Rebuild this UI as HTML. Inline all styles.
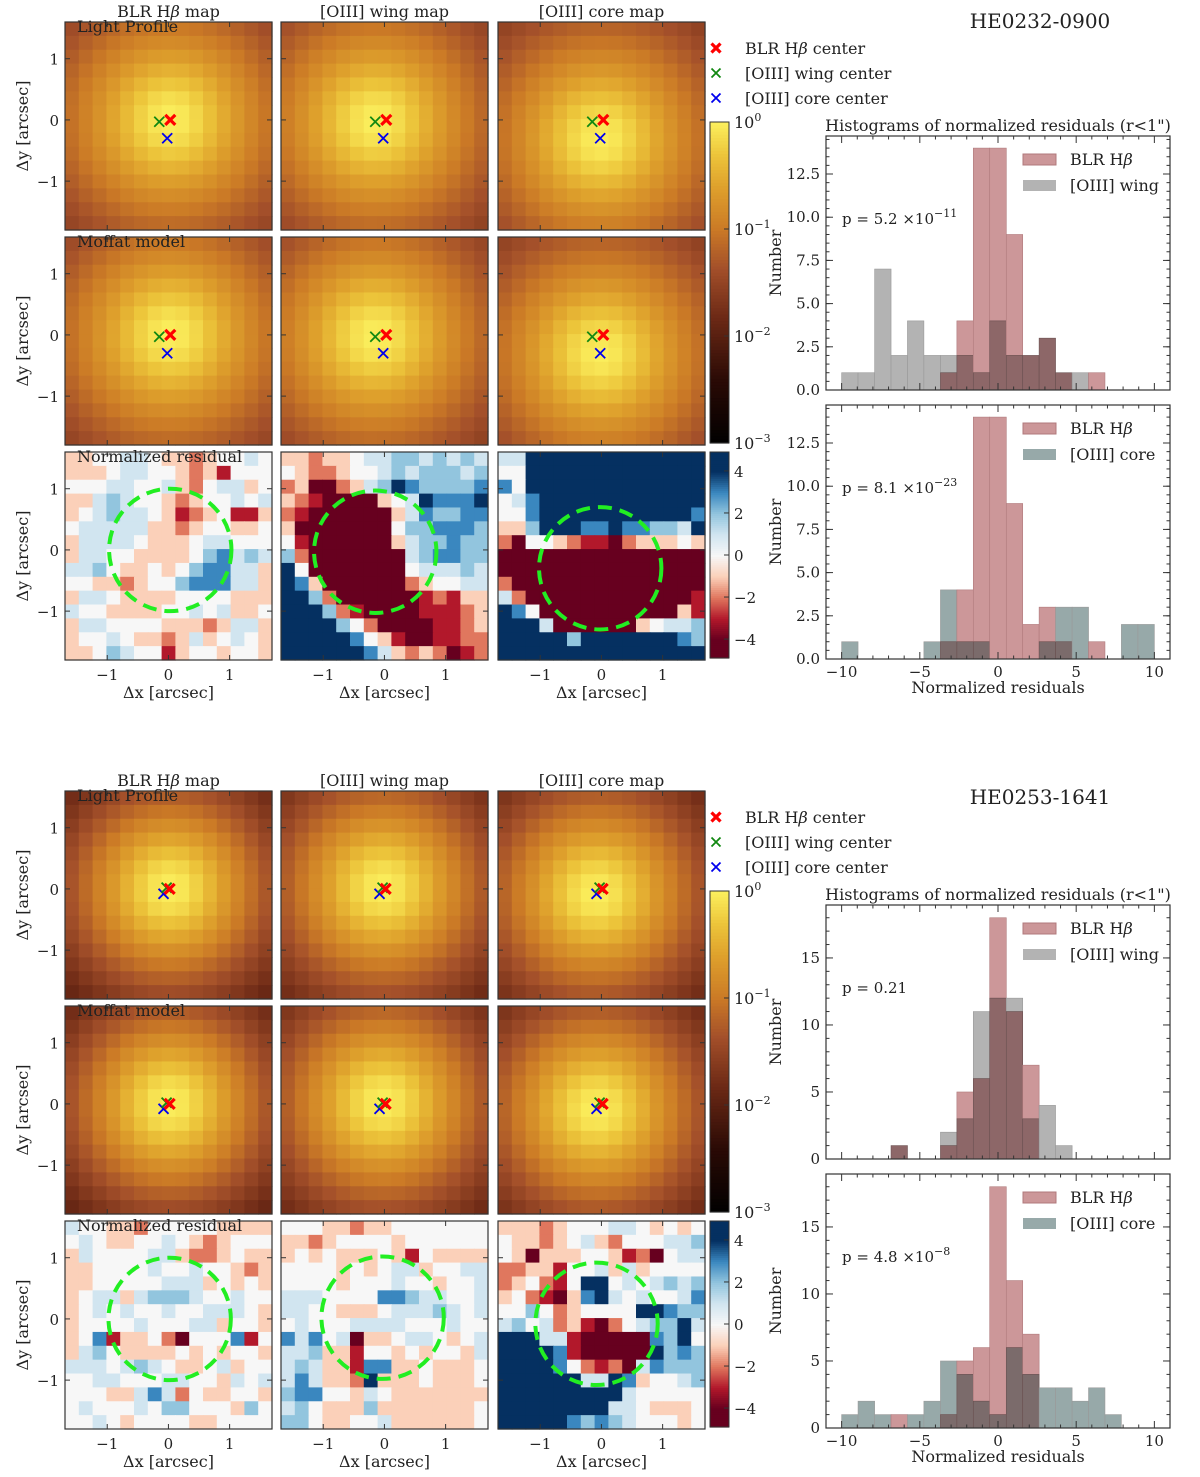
<!DOCTYPE html>
<html><head><meta charset="utf-8"><style>
html,body{margin:0;padding:0;background:#fff}
svg text{font-family:"DejaVu Serif","Liberation Serif",serif;fill:#222}
</style></head><body>
<svg id="fig" xmlns="http://www.w3.org/2000/svg" width="1200" height="1472" viewBox="0 0 1200 1472"></svg>
<script>
// ---------------- data ----------------
const binEdges=[-10,-8.95,-7.89,-6.84,-5.79,-4.74,-3.68,-2.63,-1.58,-0.53,0.53,1.58,2.63,3.68,4.74,5.79,6.84,7.89,8.95,10];
const topBLR =[0,0,0,0,0,0,1,4,14,14,9,2,3,1,0,1,0,0,0];
const topWing=[1,1,7,2,4,2,2,2,1,4,2,2,3,1,1,0,0,0,0];
const topCore=[1,0,0,0,0,1,4,1,1,0,0,0,1,3,3,0,0,2,2];
const botBLR =[0,0,0,1,0,0,1,5,6,18,11,7,0,0,0,0,0,0,0];
const botWing=[0,0,0,1,0,0,2,3,11,12,12,3,4,1,0,0,0,0,0];
const botCore=[1,2,1,0,1,2,5,4,2,1,6,4,3,3,2,3,1,0,0];
const topYTicks=[0,2.5,5,7.5,10,12.5];
const topYTickLabels=["0.0","2.5","5.0","7.5","10.0","12.5"];
const botYTicks=[0,5,10,15];
const botYTickLabels=["0","5","10","15"];
const histXTicks=[-10,-5,0,5,10];
const topCenters=[[0.03,0.0],[-0.15,-0.03],[-0.02,-0.3]];
const botCenters=[[0.02,0.0],[-0.03,0.02],[-0.08,-0.08]];
const resTop1=["ddeeffeddcdeefe","dddeffeedcdbeee","eeeffeefdceffde","ddfgfeedcdeefef","defgffedbcdebbd","efffffddcdeedde","dffffedddeffeee","dffeeddddeghfgf","ffgeddedeghhffd","eeddcdeeghhhffd","dffeddddeeeeddd","feeddddeefefdde","dffeeeedddcdffd","deefeddcdfdefed","ddegfeebdeedeed"];
const resTop2=["ddcddeffggfgfgf","edccdeefgfgggfg","cdaacdfgihggggh","dcbaaaadefihhhi","cbaaaaaadfhgghh","daaaaaaaegghhhg","ebaaaaaadfgghgg","gcaaaaaaafghhgg","ieaaaaaaaefffgf","ihdaaaaaacdeeff","iigcaaaaaabcbdd","iiigcbaaaabbbcd","iiiigecaaaabbcd","iiiiihedbaabbcc","iiiiiihfdcdcabc"];
const resTop3=["ffiiiiiiiiiiiii","eeiiiiiiiiiiiii","heiiiiiiiiiiiii","efhiiiiiiiiiiii","eehiiiiiiiiiiih","ddgiiihhihhggfi","caeedcbbacddded","aaaaaaaaaaaaaaa","aaaaaaaaaaaaaaa","caaaaaaaaaaaaaa","fcaaaaaaaaaaaab","iheaaaaaaaaaadb","iiifaaaaaadeffg","iiiiigiiiiiiihg","iiiiiiiiiiiiiii"];
const resBot1=["feeddceeeeedddd","efeddeefedcdeee","dfeeeeffdccdedd","ddeeeefeefeedcd","ddeeeeefffdeded","deffdfgggfeefee","defefeefeefffed","deeeefeeeffdeed","dehbddecaeeehbe","dfgeddddededeed","fffefgfeddefdee","eeffeeeffeedfef","eeeddfhfceddeed","efeeefeggeeedge","eefedeeeeddeeee"];
const resBot2=["eeeddcddeeeeeee","ddcdeeeedeeeeee","dededddedbedddd","eeeededeffdeeff","eeeedeeefeedeef","fffeeeehhgffeef","ffeedddefffgfef","efeeeffffeeefee","hfhefaddeffedef","ffgddbeededeedf","fgfddbhhddeddde","fhfddcidddeddde","ghheedfeddddddd","fgedddgddddddde","ggeddeefdddddde"];
const resBot3=["dddcdeeeffedede","eddcdefdceeeffg","edadddeedbcaeff","ccddbeefdfdeeee","cdecbeiiefefgfg","decbadhifefeefh","eegecdeeeeiihgg","fgefcdbacefggif","iiiffbaaaaahgie","iiiihbaaaaaighg","iiiihecbcafhggg","iiiiiiffihdeefg","iiiiiiiiifeeeee","iiiiiiiiffeddde","iiiiihghgfeeede"];
const heatTickLabels=["0","-1","-2","-3"];
const divTicks=[4,2,0,-2,-4];
// ---------------- helpers ----------------
const NS='http://www.w3.org/2000/svg';
const svg=document.getElementById('fig');
function mk(tag,attrs,parent){const e=document.createElementNS(NS,tag);for(const k in attrs)e.setAttribute(k,attrs[k]);(parent||svg).appendChild(e);return e;}
function txt(x,y,s,size,anchor,parent,extra){const t=mk('text',Object.assign({x:x,y:y,'font-size':size,'text-anchor':anchor||'start'},extra||{}),parent);t.textContent=s;return t;}
const divColors=['#67001f','#b2182b','#e0775e','#fbd0b9','#f7f7f7','#d1e5f0','#92c5de','#3a87bf','#053061'];
const divRGB=divColors.map(h=>[parseInt(h.substr(1,2),16),parseInt(h.substr(3,2),16),parseInt(h.substr(5,2),16)]);
function divCont(v){let p=Math.max(0,Math.min(8,v+4));const i=Math.min(7,Math.floor(p)),f=p-i;const c=divRGB[i].map((a,k)=>Math.round(a+(divRGB[i+1][k]-a)*f));return 'rgb('+c.join(',')+')';}
const heatStops=[[0,[0,0,0]],[0.2,[42,10,5]],[0.4,[110,42,22]],[0.55,[164,80,42]],[0.67,[203,122,38]],[0.8,[222,160,44]],[0.9,[236,196,58]],[1,[251,238,92]]];
function heat(t){t=Math.max(0,Math.min(1,t));for(let i=1;i<heatStops.length;i++){if(t<=heatStops[i][0]){const a=heatStops[i-1],b=heatStops[i];const f=(t-a[0])/(b[0]-a[0]);const c=a[1].map((v,k)=>Math.round(v+(b[1][k]-v)*f));return 'rgb('+c.join(',')+')';}}return 'rgb(251,238,92)';}
const PW=207,PH=208,NC=15,XMIN=-1.69,YMAX=1.6,SC=61.2;
function sx(x0,x){return x0+(x-XMIN)*SC;}
function sy(y0,y){return y0+(YMAX-y)*SC;}
function cross(g,x,y,color,size,w){mk('path',{d:`M${x-size},${y-size}L${x+size},${y+size}M${x-size},${y+size}L${x+size},${y-size}`,stroke:color,'stroke-width':w,fill:'none'},g);}

function imagePanel(x0,y0,kind,center,alpha,beta,res,centers,label,labelColor,rowIdx,colIdx,showY,showX){
  const g=mk('g',{});
  
  
  const cw=PW/NC,ch=PH/NC;
  for(let j=0;j<NC;j++)for(let i=0;i<NC;i++){
    let fill;
    if(kind==='res'){fill=divColors[res[j].charCodeAt(i)-97];}
    else{const x=XMIN+(i+0.5)*(3.38/NC),y=YMAX-(j+0.5)*(3.4/NC);const r2=(x-center[0])**2+(y-center[1])**2;const v=Math.pow(1+r2/(alpha*alpha),-beta);fill=heat((Math.log10(v)+3)/3);}
    const c=mk('rect',{x:(x0+i*cw).toFixed(2),y:(y0+j*ch).toFixed(2),width:(cw+0.6).toFixed(2),height:(ch+0.6).toFixed(2),fill:fill},g);
    
    
  }
  mk('rect',{x:x0,y:y0,width:PW,height:PH,fill:'none',stroke:'#333','stroke-width':1.2},g);
  [-1,0,1].forEach(v=>{const px=sx(x0,v);mk('line',{x1:px,y1:y0+PH,x2:px,y2:y0+PH-5,stroke:'#333'},g);mk('line',{x1:px,y1:y0,x2:px,y2:y0+5,stroke:'#333'},g);
    const py=sy(y0,v);mk('line',{x1:x0,y1:py,x2:x0+5,y2:py,stroke:'#333'},g);mk('line',{x1:x0+PW,y1:py,x2:x0+PW-5,y2:py,stroke:'#333'},g);
    if(showY){const t=txt(x0-6,py+6,v<0?'\u2212'+(-v):String(v),15,'end',g);}
    if(showX){const t=txt(px,y0+PH+20,v<0?'\u2212'+(-v):String(v),15,'middle',g);}
  });
  if(kind==='res'){
    const c=mk('circle',{cx:sx(x0,center[0]),cy:sy(y0,center[1]),r:SC,fill:'none',stroke:'#22ee22','stroke-width':4,'stroke-dasharray':'14,8'},g);
    
    
  } else {
    const cols=['#ff0000','#118811','#0000ee'];
    centers.slice().reverse().forEach((cc,k)=>{const idx=2-k;cross(g,sx(x0,cc[0]),sy(y0,cc[1]),cols[idx],5,idx===0?3.2:1.8);});
  }
  if(label){const t=txt(x0+12,y0+10,label,16,'start',g,{fill:labelColor});}
  if(showX){const t=txt(x0+PW/2,y0+PH+38,'\u0394x [arcsec]',16,'middle',g);}
}

function hist(x0,y0,w,h,ymax,yt,ytl,blr,other,otherCol,ovCol,otherName,ptext,pexp,showX,name){
  const g=mk('g',{});
  
  
  const X=v=>x0+(v+11)/22*w, Y=v=>y0+h-v/ymax*h;
  for(let k=0;k<blr.length;k++){
    const a=blr[k],b=other[k],xl=X(binEdges[k]),xr=X(binEdges[k+1]),m=Math.min(a,b),M=Math.max(a,b);
    if(M>m){const r=mk('rect',{x:xl,y:Y(M),width:xr-xl,height:Y(m)-Y(M),fill:a>b?'#cc9799':otherCol,stroke:a>b?'#b07a7c':'#999','stroke-width':0.6},g);
      }
    if(m>0){const r=mk('rect',{x:xl,y:Y(m),width:xr-xl,height:Y(0)-Y(m),fill:ovCol,stroke:'#6a5050','stroke-width':0.6},g);
      }
  }
  mk('rect',{x:x0,y:y0,width:w,height:h,fill:'none',stroke:'#333','stroke-width':1.2},g);
  for(let v=-11;v<=11;v++){const px=X(v);const L=(v%5===0)?7:3.5;mk('line',{x1:px,y1:y0+h,x2:px,y2:y0+h-L,stroke:'#333'},g);mk('line',{x1:px,y1:y0,x2:px,y2:y0+L,stroke:'#333'},g);}
  const minorStep=yt[1]/5;
  for(let v=0;v<=ymax+1e-6;v+=minorStep){const py=Y(v);mk('line',{x1:x0,y1:py,x2:x0+3.5,y2:py,stroke:'#333'},g);mk('line',{x1:x0+w,y1:py,x2:x0+w-3.5,y2:py,stroke:'#333'},g);}
  yt.forEach((v,i)=>{const py=Y(v);mk('line',{x1:x0,y1:py,x2:x0+7,y2:py,stroke:'#333'},g);mk('line',{x1:x0+w,y1:py,x2:x0+w-7,y2:py,stroke:'#333'},g);
    const t=txt(x0-6,py+5,ytl[i],15,'end',g);});
  if(showX){histXTicks.forEach(v=>{const t=txt(X(v),y0+h+18,v<0?'\u2212'+(-v):String(v),15,'middle',g);});
    const t=txt(x0+w/2,y0+h+34,'Normalized residuals',16,'middle',g);}
  const yl=txt(0,0,'Number',16,'middle',g,{transform:`translate(${x0-45},${y0+h/2}) rotate(-90)`});
  
  const lg=mk('g',{},g);
  
  
  mk('rect',{x:x0+197,y:y0+18,width:33,height:11,fill:'#cc9799',stroke:'#b07a7c'},lg);
  mk('rect',{x:x0+197,y:y0+44,width:33,height:11,fill:otherCol},lg);
  const t1=txt(x0+244,y0+29,'BLR H',16,'start',lg);const b=mk('tspan',{'font-style':'italic'},t1);b.textContent='\u03b2';
  txt(x0+244,y0+55,otherName,16,'start',lg);
  const pt=txt(x0+16,y0+88,ptext,15,'start',g);
  if(pexp){const s=mk('tspan',{dy:-7,'font-size':11},pt);s.textContent=pexp;}
  
}

function block(oy,titleDy,name,centers,maps,bParams,lbl,blr,wing,core,ymax,yt,ytl,p1,p1e,p2,p2e){
  const colX=[65,281,498],rowY=[oy+22,oy+237,oy+452];
  const titles=[['BLR H','\u03b2',' map'],['[OIII] wing map'],['[OIII] core map']];
  titles.forEach((tt,i)=>{const t=txt(colX[i]+PW/2,oy+17,tt[0],16,'middle');if(tt[1]){const s=mk('tspan',{'font-style':'italic'},t);s.textContent=tt[1];const s2=mk('tspan',{},t);s2.textContent=tt[2];}
    });
  for(let r=0;r<3;r++)for(let c=0;c<3;c++){
    const kind=r===2?'res':'lp';
    const label=c===0?[lbl[0],'Moffat model','Normalized residual'][r]:null;
    imagePanel(colX[c],rowY[r],kind,centers[c],bParams[c][0],bParams[c][1],kind==='res'?maps[c]:null,centers,label,r===2?'#111':'#fff',r,c,c===0,r===2);
  }
  for(let r=0;r<3;r++){const t=txt(0,0,'\u0394y [arcsec]',16,'middle',null,{transform:`translate(28,${rowY[r]+PH/2}) rotate(-90)`});}
  const cb=mk('g',{});
  
  
  const cy0=oy+122,cy1=oy+443;
  for(let k=0;k<100;k++){mk('rect',{x:710,y:cy0+(cy1-cy0)*k/100,width:19,height:(cy1-cy0)/100+0.6,fill:heat(1-k/100)},cb);}
  mk('rect',{x:710,y:cy0,width:19,height:cy1-cy0,fill:'none',stroke:'#333'},cb);
  heatTickLabels.forEach((e,i)=>{const py=cy0+(cy1-cy0)*i/3;mk('line',{x1:729,y1:py,x2:724,y2:py,stroke:'#333'},cb);const t=txt(734,py+6,'10',16,'start',cb);const s=mk('tspan',{dy:-7,'font-size':11},t);s.textContent=e==='0'?'0':'\u2212'+e.slice(1);});
  const db=mk('g',{});
  
  
  const dy0=oy+452,dy1=oy+658;
  for(let k=0;k<100;k++){const v=4.9-9.8*k/100;mk('rect',{x:710,y:dy0+(dy1-dy0)*k/100,width:19,height:(dy1-dy0)/100+0.6,fill:divCont(v)},db);}
  mk('rect',{x:710,y:dy0,width:19,height:dy1-dy0,fill:'none',stroke:'#333'},db);
  divTicks.forEach(v=>{const py=dy0+(4.9-v)/9.8*(dy1-dy0);mk('line',{x1:729,y1:py,x2:724,y2:py,stroke:'#333'},db);txt(734,py+6,v<0?'\u2212'+(-v):String(v),15,'start',db);});
  const lg=mk('g',{});
  
  
  cross(lg,716,oy+48,'#ff0000',4.5,3.2);cross(lg,716,oy+73,'#118811',4.5,1.8);cross(lg,716,oy+98,'#0000ee',4.5,1.8);
  const l1=txt(745,oy+54,'BLR H',16,'start',lg);const bb=mk('tspan',{'font-style':'italic'},l1);bb.textContent='\u03b2';const bc=mk('tspan',{},l1);bc.textContent=' center';
  txt(745,oy+79,'[OIII] wing center',16,'start',lg);
  txt(745,oy+104,'[OIII] core center',16,'start',lg);
  const ti=txt(1040,oy+28+titleDy,name,20,'middle');
  
  const ht=txt(998,oy+131,'Histograms of normalized residuals (r<1")',16,'middle');
  
  hist(826,oy+136,344,254,ymax,yt,ytl,blr,wing,'#b3b3b3','#8d6768','[OIII] wing',p1,p1e,false,'hist-wing');
  hist(826,oy+405,344,254,ymax,yt,ytl,blr,core,'#97a9a9','#7b6b6b','[OIII] core',p2,p2e,true,'hist-core');
}
block(0,0,'HE0232-0900',topCenters,[resTop1,resTop2,resTop3],[[0.8,1.5],[0.8,1.5],[0.8,1.5]],['Light Profile'],topBLR,topWing,topCore,14.7,topYTicks,topYTickLabels,'p = 5.2 \u00d710','\u221211','p = 8.1 \u00d710','\u221223');
block(769,7,'HE0253-1641',botCenters,[resBot1,resBot2,resBot3],[[0.85,2],[0.85,1.9],[0.85,1.9]],['Light Profile'],botBLR,botWing,botCore,18.95,botYTicks,botYTickLabels,'p = 0.21',null,'p = 4.8 \u00d710','\u22128');
</script>
</body></html>
